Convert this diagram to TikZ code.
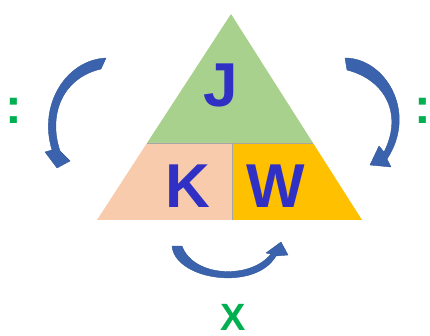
\documentclass[tikz,border=0pt]{standalone}
\usepackage{fontspec}
\setmainfont{Liberation Sans}
\usetikzlibrary{positioning}
\definecolor{topgreen}{HTML}{A9D18E}
\definecolor{leftpeach}{HTML}{F8CBAD}
\definecolor{rightgold}{HTML}{FFC000}
\definecolor{letterblue}{HTML}{3030C4}
\definecolor{signgreen}{HTML}{00B050}
\definecolor{arrowblue}{HTML}{3B63AD}
\definecolor{arrowdark}{HTML}{2F5597}
\tikzstyle{letter} = [inner sep=0pt, anchor=base, text=letterblue,
    font=\fontsize{62}{62}\selectfont\bfseries]
\tikzstyle{sign} = [inner sep=0pt, anchor=base, text=signgreen,
    font=\fontsize{50}{50}\selectfont\bfseries]
\tikzstyle{curvearrow} = [fill=arrowblue, draw=arrowdark, line width=0.4pt, line join=round]
\tikzstyle{divider} = [draw=gray!70, line width=0.6pt]

\begin{document}
\begin{tikzpicture}[x=1pt, y=-1pt]
\useasboundingbox (0,0) rectangle (430,336);
\fill[topgreen] (231,14) -- (147,143) -- (313,143) -- cycle;
\fill[leftpeach] (147,143) -- (232,143) -- (232,220) -- (97,220) -- cycle;
\fill[rightgold] (232,143) -- (313,143) -- (362,220) -- (232,220) -- cycle;
\draw[divider] (147,143) -- (313,143);
\draw[divider] (232,143) -- (232,220);
\node[letter] (j) at (221,107) {J};
\node[letter] (k) at (188,208) {K};
\node[letter] (w) at (276,208) {W};
\node[sign] (lcolon) at (14,124) {:};
\node[sign] (rcolon) at (423,124) {:};
\node[sign, font=\fontsize{38}{38}\selectfont\bfseries] (x) at (233,330) {X};
\filldraw[curvearrow] (106,58) .. controls (66,60) and (38,105) .. (52,150)
  -- (45,152) -- (57,168) -- (70,161) -- (60,151)
  .. controls (48,115) and (62,78) .. (101,69) -- cycle;
\filldraw[curvearrow] (345,58) .. controls (385,58) and (418,112) .. (387,159)
  -- (391,167) -- (370,165) -- (379,146) -- (384,152)
  .. controls (403,115) and (386,80) .. (347,70) -- cycle;
\filldraw[curvearrow] (172,246) .. controls (175,280) and (255,292) .. (276,256)
  -- (288,255) -- (281,242) -- (266,253) -- (271,254)
  .. controls (250,280) and (193,277) .. (182,246) -- cycle;
\end{tikzpicture}
\end{document}
